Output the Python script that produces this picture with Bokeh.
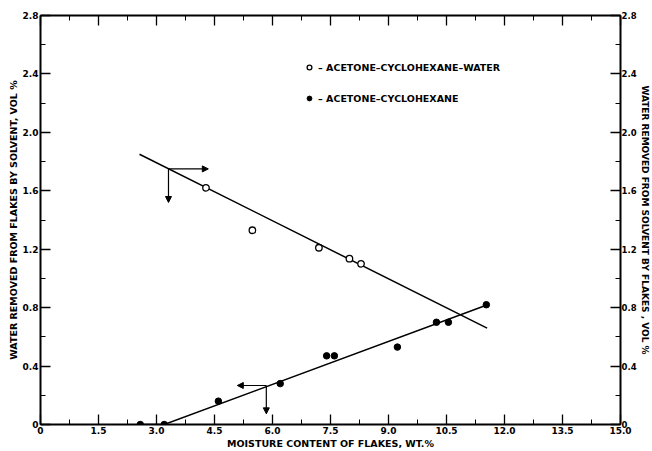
from bokeh.plotting import figure
from bokeh.models import (LinearAxis, FixedTicker, Arrow, NormalHead, Legend, LegendItem,
                          Range1d, CustomJSTickFormatter)
from bokeh.embed import file_html
from bokeh.resources import INLINE

# ---- data ----
x_ticks = [0, 1.5, 3.0, 4.5, 6.0, 7.5, 9.0, 10.5, 12.0, 13.5, 15.0]
x_tick_labels = ["0", "1.5", "3.0", "4.5", "6.0", "7.5", "9.0", "10.5", "12.0", "13.5", "15.0"]
y_ticks = [0, 0.4, 0.8, 1.2, 1.6, 2.0, 2.4, 2.8]
y_tick_labels = ["0", "0.4", "0.8", "1.2", "1.6", "2.0", "2.4", "2.8"]

acw_moisture = [4.28, 5.48, 7.20, 7.99, 8.29]
acw_water = [1.62, 1.33, 1.21, 1.135, 1.10]

ac_moisture = [2.58, 3.20, 4.60, 6.20, 7.40, 7.60, 9.23, 10.24, 10.55, 11.53]
ac_water = [0.0, 0.0, 0.16, 0.28, 0.47, 0.47, 0.53, 0.70, 0.70, 0.82]

acw_fit_x = [2.56, 11.55]
acw_fit_y = [1.85, 0.66]
ac_fit_x = [2.58, 3.20, 11.51]
ac_fit_y = [0.0, 0.0, 0.815]

# axis-indicator arrows: (x_start, y_start, x_end, y_end)
arrow_upper_right = (3.31, 1.75, 4.34, 1.75)
arrow_upper_down = (3.31, 1.75, 3.31, 1.52)
arrow_lower_left = (5.84, 0.267, 5.09, 0.267)
arrow_lower_down = (5.84, 0.267, 5.84, 0.073)

legend_labels = ["\u2013 ACETONE\u2013CYCLOHEXANE\u2013WATER", "\u2013 ACETONE\u2013CYCLOHEXANE"]

FONT = "DejaVu Sans"

p = figure(width=652, height=451, output_backend="svg", toolbar_location=None,
           x_range=Range1d(0, 15), y_range=Range1d(0, 2.8),
           x_axis_label="MOISTURE CONTENT OF FLAKES, WT.%",
           y_axis_label="WATER REMOVED FROM FLAKES BY SOLVENT, VOL %")
p.min_border_left = 40
p.min_border_right = 28
p.min_border_top = 15
p.min_border_bottom = 26
p.outline_line_color = None
p.xgrid.visible = False
p.ygrid.visible = False
p.background_fill_color = "white"
p.border_fill_color = "white"


def style_axis(ax, major, labels_map, minor, labels=True):
    ax.ticker = FixedTicker(ticks=major, minor_ticks=minor)
    ax.axis_line_width = 2
    ax.axis_line_color = "black"
    ax.major_tick_in = 10
    ax.major_tick_out = 0
    ax.minor_tick_in = 5
    ax.minor_tick_out = 0
    ax.major_tick_line_width = 1.3
    ax.minor_tick_line_width = 1
    ax.major_tick_line_color = "black"
    ax.minor_tick_line_color = "black"
    ax.major_label_text_font = FONT
    ax.major_label_text_font_style = "bold"
    ax.major_label_text_font_size = "9px"
    ax.major_label_text_color = "black"
    ax.major_label_standoff = 2
    if labels:
        ax.major_label_overrides = labels_map
    else:
        ax.formatter = CustomJSTickFormatter(code="return ''")
        ax.major_label_standoff = 0
    ax.axis_label_text_font = FONT
    ax.axis_label_text_font_style = "bold"
    ax.axis_label_text_font_size = "9.5px"
    ax.axis_label_text_color = "black"
    ax.axis_label_standoff = 1


x_minor = [0.75 * i for i in range(21)]
y_minor = [0.2 * i for i in range(15)]
xmap = {t: l for t, l in zip(x_ticks, x_tick_labels)}
ymap = {t: l for t, l in zip(y_ticks, y_tick_labels)}

style_axis(p.xaxis[0], x_ticks, xmap, x_minor)
style_axis(p.yaxis[0], y_ticks, ymap, y_minor)

right = LinearAxis(axis_label="WATER REMOVED FROM SOLVENT BY FLAKES , VOL %")
style_axis(right, y_ticks, ymap, y_minor)
right.major_label_standoff = 1
right.axis_label_standoff = 0
right.major_label_text_font_size = "8.5px"
right.axis_label_text_font_size = "9px"
p.add_layout(right, "right")

top = LinearAxis()
style_axis(top, x_ticks, xmap, x_minor, labels=False)
p.add_layout(top, "above")

# fit lines
p.line(acw_fit_x, acw_fit_y, line_color="black", line_width=1.5)
p.line(ac_fit_x, ac_fit_y, line_color="black", line_width=1.5)

# data points
r_open = p.scatter(acw_moisture, acw_water, marker="circle", size=6.5,
                   fill_color="white", line_color="black", line_width=1.3)
r_fill = p.scatter(ac_moisture, ac_water, marker="circle", size=6.5,
                   fill_color="black", line_color="black")

# arrows
for (xs, ys, xe, ye) in [arrow_upper_right, arrow_upper_down, arrow_lower_left, arrow_lower_down]:
    p.add_layout(Arrow(end=NormalHead(size=6, fill_color="black", line_color="black"),
                       x_start=xs, y_start=ys, x_end=xe, y_end=ye,
                       line_color="black", line_width=1.2))

legend = Legend(items=[LegendItem(label=legend_labels[0], renderers=[r_open]),
                       LegendItem(label=legend_labels[1], renderers=[r_fill])],
                location=(263, 320))
legend.label_text_font = FONT
legend.label_text_font_style = "bold"
legend.label_text_font_size = "9.5px"
legend.label_text_color = "black"
legend.glyph_width = 12
legend.glyph_height = 12
legend.label_height = 12
legend.spacing = 19
legend.padding = 0
legend.margin = 0
legend.label_standoff = 3
legend.border_line_color = None
legend.background_fill_alpha = 0
p.add_layout(legend, "center")

open("out.html", "w").write(file_html(p, INLINE))
